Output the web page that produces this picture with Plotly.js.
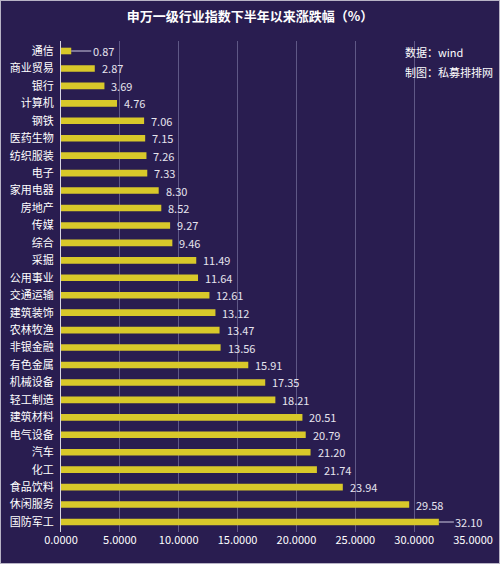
<!DOCTYPE html>
<html>
<head>
<meta charset="utf-8">
<script src="https://cdn.plot.ly/plotly-3.0.1.min.js"></script>
<style>
html,body{margin:0;padding:0;background:#291d50;}
#chart{width:500px;height:564px;}
#frame{position:absolute;left:0;top:0;width:498px;height:562px;border:1px solid #b8b4c6;pointer-events:none;}
</style>
</head>
<body>
<div id="chart"></div>
<div id="frame"></div>
<script>
const categories = ["通信","商业贸易","银行","计算机","钢铁","医药生物","纺织服装","电子","家用电器","房地产","传媒","综合","采掘","公用事业","交通运输","建筑装饰","农林牧渔","非银金融","有色金属","机械设备","轻工制造","建筑材料","电气设备","汽车","化工","食品饮料","休闲服务","国防军工"];
const values = [0.87,2.87,3.69,4.76,7.06,7.15,7.26,7.33,8.30,8.52,9.27,9.46,11.49,11.64,12.61,13.12,13.47,13.56,15.91,17.35,18.21,20.51,20.79,21.20,21.74,23.94,29.58,32.10];
const tickValues = [0,5,10,15,20,25,30,35];
const tickLabels = ["0.0000","5.0000","10.0000","15.0000","20.0000","25.0000","30.0000","35.0000"];
const leaderLined = ["通信","国防军工"];

const FONT = '"Noto Sans CJK SC", "Noto Sans", sans-serif';
const trace = {
  type:'bar', orientation:'h', x:values, y:categories,
  marker:{color:'#d8c82a'}, width:0.38, hoverinfo:'none'
};
const annotations = categories.map((c,i)=>{
  const lined = leaderLined.includes(c);
  return lined ? {
    x:values[i], y:c, xref:'x', yref:'y', text:values[i].toFixed(2),
    showarrow:true, arrowhead:0, arrowwidth:1, arrowcolor:'#cfcbe0', ax:(i===0?32:30), ay:0,
    standoff:0, font:{family:FONT,size:11,color:'#e6e4ee'}, xanchor:'center'
  } : {
    x:values[i], y:c, xref:'x', yref:'y', text:values[i].toFixed(2),
    showarrow:false, xanchor:'left', xshift:5,
    font:{family:FONT,size:11,color:'#e6e4ee'}
  };
});
annotations.push({xref:'paper',yref:'paper',x:0.83,y:0.978,xanchor:'left',yanchor:'middle',showarrow:false,text:'数据：wind',font:{family:FONT,size:11,color:'#ffffff'}});
annotations.push({xref:'paper',yref:'paper',x:0.83,y:0.937,xanchor:'left',yanchor:'middle',showarrow:false,text:'制图：私募排排网',font:{family:FONT,size:11,color:'#ffffff'}});

const layout = {
  width:500, height:564,
  paper_bgcolor:'#291d50', plot_bgcolor:'#291d50',
  margin:{l:61,r:27,t:41,b:32},
  title:{text:'<b>申万一级行业指数下半年以来涨跌幅（%）</b>', x:0.5, xanchor:'center', y:0.97, yanchor:'middle', font:{family:FONT,size:13,color:'#ffffff'}},
  xaxis:{range:[0,35], tickvals:tickValues, ticktext:tickLabels, showgrid:true, gridcolor:'#5f5886', gridwidth:1,
    zeroline:false, showline:false, ticks:'', tickfont:{family:FONT,size:11,color:'#ffffff'}, fixedrange:true},
  yaxis:{autorange:'reversed', showgrid:false, ticks:'', showline:true, linecolor:'#d8d6e2', linewidth:1,
    tickfont:{family:FONT,size:11,color:'#ffffff'}, ticklabelstandoff:4},
  annotations:annotations,
  showlegend:false
};
Plotly.newPlot('chart',[trace],layout,{displayModeBar:false,staticPlot:true});
</script>
</body>
</html>
